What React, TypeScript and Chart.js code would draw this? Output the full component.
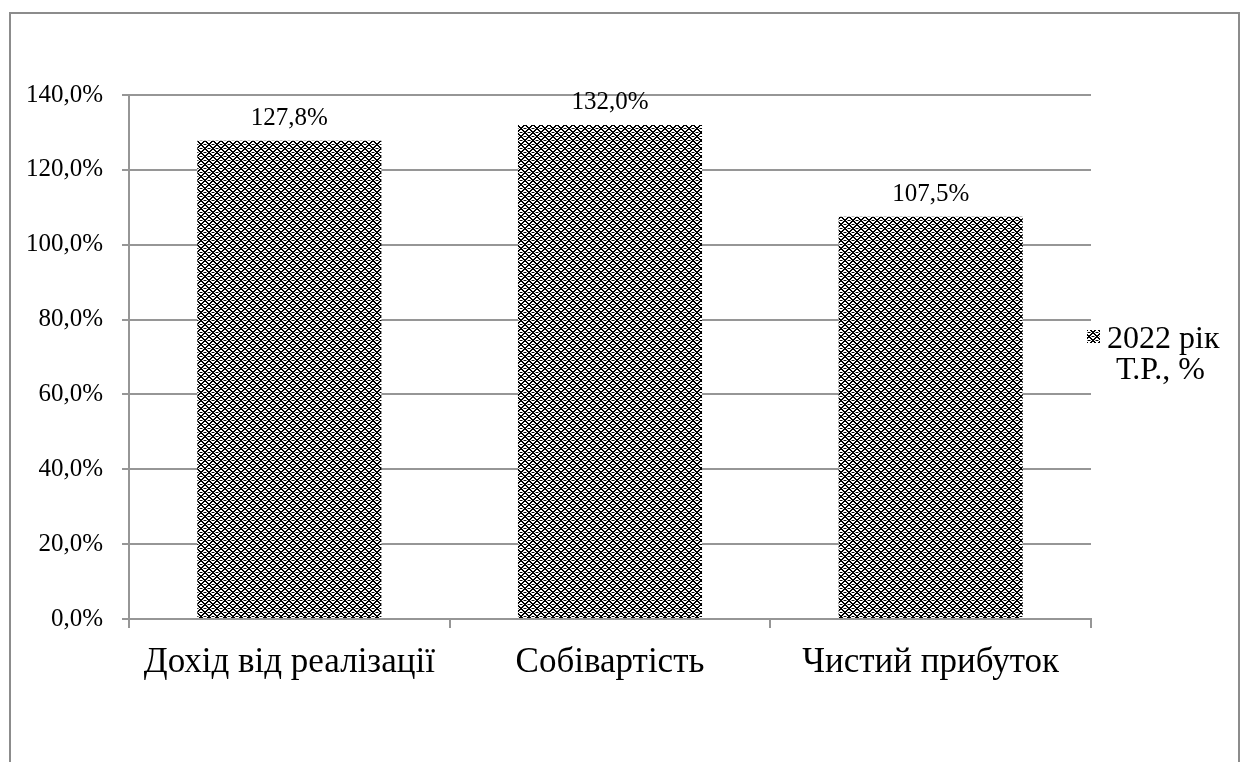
import React, { useEffect, useRef } from "react";
import { Chart, registerables } from "chart.js";

Chart.register(...registerables);

const categories = ["Дохід від реалізації", "Собівартість", "Чистий прибуток"];
const values = [127.8, 132.0, 107.5];
const seriesName = ["2022 рік", "Т.Р., %"];
const yTicks = [0, 20, 40, 60, 80, 100, 120, 140];

const FONT = "'Liberation Serif', 'Times New Roman', serif";
const GRID = "#969696";

function makePattern(): CanvasPattern | string {
  const c = document.createElement("canvas");
  const n = 8;
  c.width = n;
  c.height = n;
  const g = c.getContext("2d");
  if (!g) return "#555";
  g.fillStyle = "#ffffff";
  g.fillRect(0, 0, n, n);
  for (let y = 0; y < n; y++) {
    for (let x = 0; x < n; x++) {
      const a = (x + y) % 8;
      const b = (x - y + 8) % 8;
      let col: string | null = null;
      if (a <= 1 || b <= 1) col = "#000000";
      else if ((a === 4 && b === 4) || (a === 5 && b === 5)) col = "#000000";
      else if ((a === 3 && b === 3) || (a === 6 && b === 6)) col = "#8a8a8a";
      if (col) {
        g.fillStyle = col;
        g.fillRect(x, y, 1, 1);
      }
    }
  }
  const p = g.createPattern(c, "repeat");
  return p || "#555";
}

export default function App() {
  const ref = useRef<HTMLCanvasElement | null>(null);
  useEffect(() => {
    if (!ref.current) return;
    const pattern = makePattern();

    const framePlugin = {
      id: "frame",
      beforeDraw(chart: any) {
        const ctx = chart.ctx;
        ctx.save();
        ctx.fillStyle = "#ffffff";
        ctx.fillRect(0, 0, chart.width, chart.height);
        ctx.strokeStyle = "#8c8c8c";
        ctx.lineWidth = 2;
        ctx.beginPath();
        ctx.moveTo(10, 770);
        ctx.lineTo(10, 13);
        ctx.lineTo(1239, 13);
        ctx.lineTo(1239, 770);
        ctx.stroke();
        ctx.restore();
      },
    };

    const labelsPlugin = {
      id: "dataLabels",
      afterDatasetsDraw(chart: any) {
        const ctx = chart.ctx;
        const meta = chart.getDatasetMeta(0);
        ctx.save();
        ctx.font = `25px ${FONT}`;
        ctx.fillStyle = "#000";
        ctx.textAlign = "center";
        ctx.textBaseline = "alphabetic";
        meta.data.forEach((el: any, i: number) => {
          const v = values[i].toFixed(1).replace(".", ",") + "%";
          ctx.fillText(v, el.x, el.y - 16);
        });
        ctx.restore();
      },
    };

    const legendPlugin = {
      id: "customLegend",
      afterDraw(chart: any) {
        const ctx = chart.ctx;
        ctx.save();
        ctx.fillStyle = pattern as any;
        ctx.fillRect(1087, 330, 13, 13);
        ctx.font = `32px ${FONT}`;
        ctx.fillStyle = "#000";
        ctx.textAlign = "left";
        ctx.textBaseline = "alphabetic";
        ctx.fillText(seriesName[0], 1107, 348);
        ctx.fillText(seriesName[1], 1116, 379);
        ctx.restore();
      },
    };

    const chart = new Chart(ref.current, {
      type: "bar",
      data: {
        labels: categories,
        datasets: [
          {
            label: seriesName.join(" "),
            data: values,
            backgroundColor: pattern as any,
            borderWidth: 0,
            categoryPercentage: 1,
            barPercentage: 0.574,
          },
        ],
      },
      options: {
        animation: false,
        responsive: false,
        maintainAspectRatio: false,
        layout: { padding: { left: 0, top: 95, right: 153, bottom: 0 } },
        plugins: {
          legend: { display: false },
          tooltip: { enabled: false },
        },
        scales: {
          x: {
            grid: {
              offset: true,
              drawOnChartArea: false,
              drawTicks: true,
              tickLength: 9,
              color: GRID,
              lineWidth: 2,
            },
            border: { display: true, color: GRID, width: 2 },
            ticks: {
              color: "#000",
              font: { family: FONT, size: 35 },
              padding: 14,
              maxRotation: 0,
            },
            afterFit(scale: any) {
              scale.height = 762 - 619;
            },
          },
          y: {
            min: 0,
            max: 140,
            afterBuildTicks(scale: any) {
              scale.ticks = yTicks.map((v) => ({ value: v }));
            },
            grid: {
              drawTicks: true,
              tickLength: 7,
              color: GRID,
              lineWidth: 2,
            },
            border: { display: true, color: GRID, width: 2 },
            ticks: {
              color: "#000",
              font: { family: FONT, size: 25 },
              padding: 19,
              callback: (v: any) => Number(v).toFixed(1).replace(".", ",") + "%",
            },
            afterFit(scale: any) {
              scale.width = 129;
            },
          },
        },
      },
      plugins: [framePlugin, labelsPlugin, legendPlugin],
    });
    return () => chart.destroy();
  }, []);

  return (
    <div style={{ position: "absolute", left: 0, top: 0, width: 1244, height: 762 }}>
      <canvas ref={ref} width={1244} height={762} style={{ width: 1244, height: 762 }} />
    </div>
  );
}
